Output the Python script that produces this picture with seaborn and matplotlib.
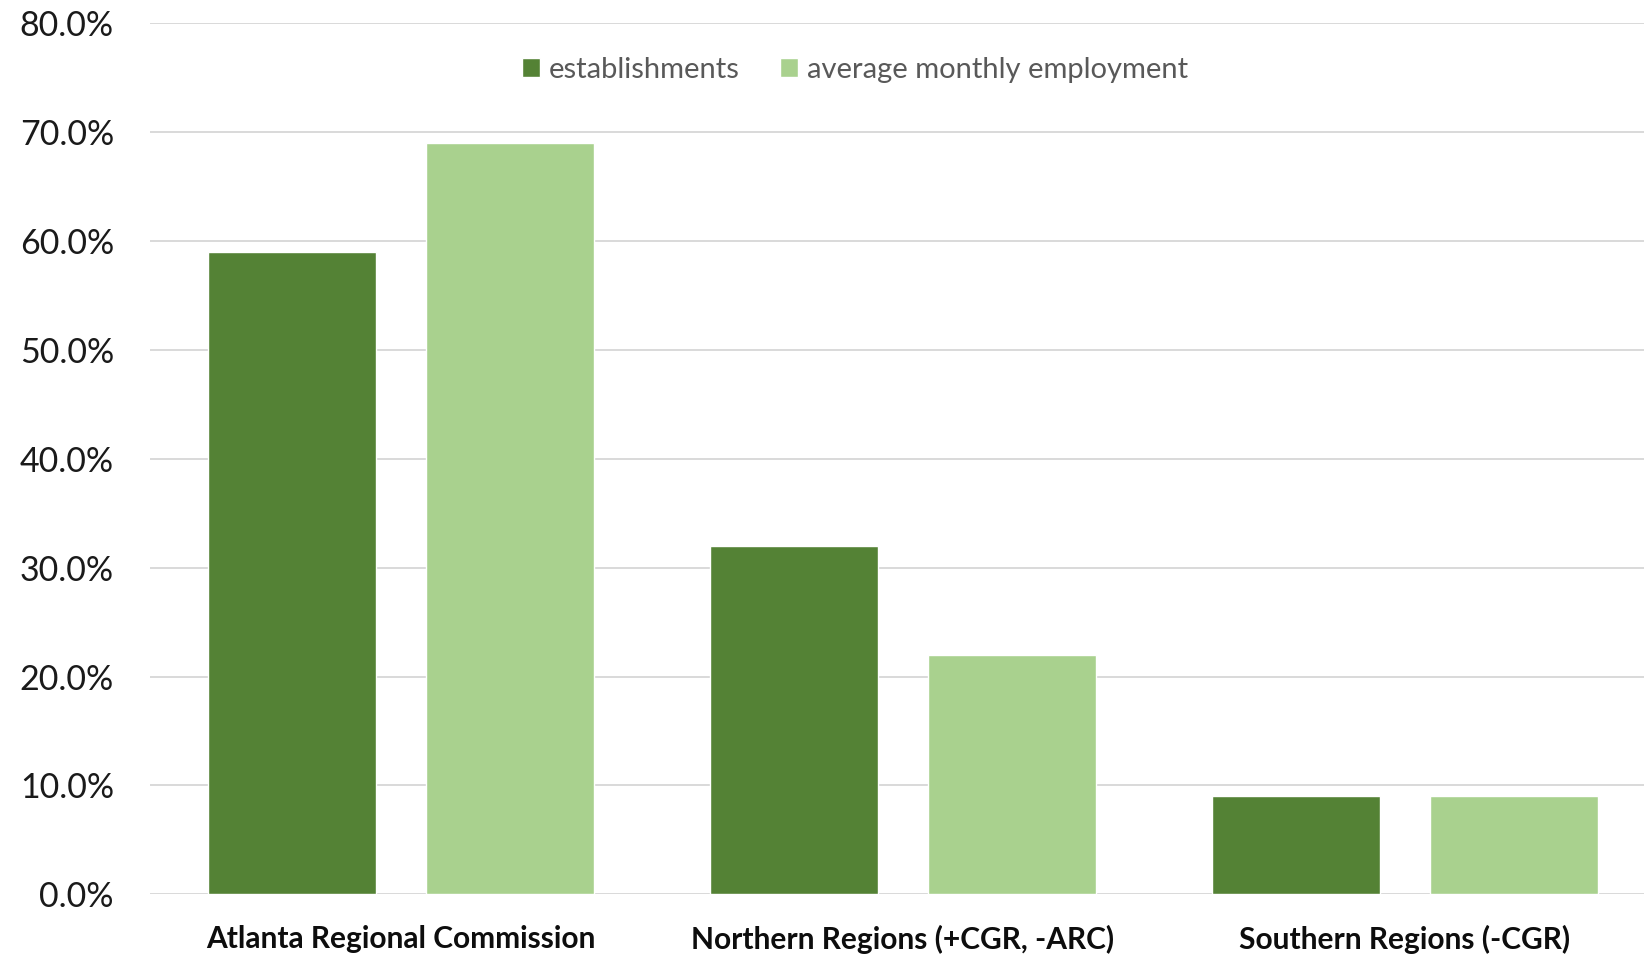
import matplotlib
matplotlib.use("Agg")
import matplotlib.pyplot as plt
from matplotlib.ticker import FuncFormatter, MultipleLocator
import seaborn as sns
import pandas as pd

# Share of establishments and employment by region group
regions = ["Atlanta Regional Commission", "Northern Regions (+CGR, -ARC)", "Southern Regions (-CGR)"]
establishments = [0.59, 0.32, 0.09]
avg_monthly_employment = [0.69, 0.22, 0.09]
series_names = ["establishments", "average monthly employment"]
palette = ["#548235", "#A9D18E"]

df = pd.DataFrame({
    "region": regions * 2,
    "series": [series_names[0]] * len(regions) + [series_names[1]] * len(regions),
    "share": establishments + avg_monthly_employment,
})

sns.set_theme(style="white")
plt.rcParams["font.family"] = ["Lato", "DejaVu Sans"]

W, H = 1644, 955
fig = plt.figure(figsize=(W / 100, H / 100), dpi=100)
# plot area: left edge at 150px, 0% at y=894px, 80% at y=23px; it runs past the right edge
ax = fig.add_axes([150 / W, (H - 894.3) / H, 1506 / W, 871 / H])

sns.barplot(data=df, x="region", y="share", hue="series", order=regions,
            hue_order=series_names, palette=palette, width=0.868, gap=0.23,
            saturation=1, errorbar=None, ax=ax, zorder=3)

ax.set_xlim(-0.5, 2.5)
ax.set_ylim(0, 0.8)
ax.yaxis.set_major_locator(MultipleLocator(0.1))
ax.yaxis.set_major_formatter(FuncFormatter(lambda v, _: f"{v * 100:.1f}%"))
ax.grid(axis="y", color="#D9D9D9", linewidth=1.4, zorder=0)
ax.set_axisbelow(True)
for s in ax.spines.values():
    s.set_visible(False)

ax.set_xlabel("")
ax.set_ylabel("")
ax.tick_params(axis="y", length=0, pad=26, labelsize=24.5, labelcolor="#1a1a1a")
ax.tick_params(axis="x", length=0, pad=22, labelsize=21.5, labelcolor="#0d0d0d")
for lbl in ax.get_xticklabels():
    lbl.set_fontweight("bold")

handles, labels = ax.get_legend_handles_labels()
ax.legend(handles, labels, loc="center", bbox_to_anchor=(855 / W, 1 - 70 / H),
          bbox_transform=fig.transFigure, ncol=2, frameon=False, fontsize=21,
          labelcolor="#595959", handlelength=0.62, handleheight=0.62,
          handletextpad=0.3, columnspacing=1.4, borderaxespad=0)

fig.savefig("out.png", dpi=100)
